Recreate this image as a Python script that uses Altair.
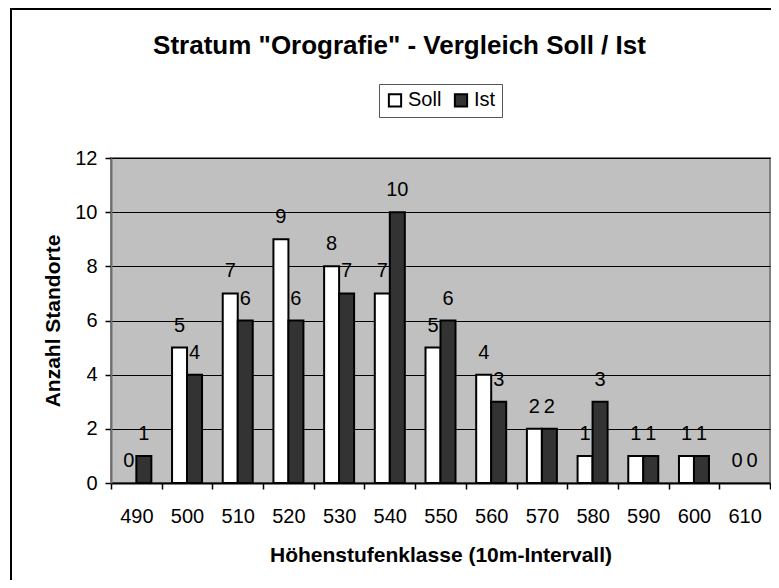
import altair as alt
import pandas as pd

# ---- data ----
klassen = ["490", "500", "510", "520", "530", "540", "550", "560", "570", "580", "590", "600", "610"]
soll = [0, 5, 7, 9, 8, 7, 5, 4, 2, 1, 1, 1, 0]
ist = [1, 4, 6, 6, 7, 10, 6, 3, 2, 3, 1, 1, 0]
serien = ["Soll", "Ist"]
farben = ["#ffffff", "#333333"]
y_ticks = [0, 2, 4, 6, 8, 10, 12]

rows = []
for k, s, i in zip(klassen, soll, ist):
    rows.append({"klasse": k, "serie": "Soll", "wert": s})
    rows.append({"klasse": k, "serie": "Ist", "wert": i})
df = pd.DataFrame(rows)

FONT = "Liberation Sans"
W, H = 659, 325

x_enc = alt.X(
    "klasse:O",
    sort=klassen,
    scale=alt.Scale(paddingInner=0, paddingOuter=0),
    axis=alt.Axis(
        title="Höhenstufenklasse (10m-Intervall)",
        labelAngle=0,
        tickBand="extent",
        grid=False,
        tickSize=6,
        labelPadding=17,
        titlePadding=18,
        domainColor="black",
        domainWidth=2,
        labelOverlap=False,
    ),
)
xoff_enc = alt.XOffset(
    "serie:N",
    sort=serien,
    scale=alt.Scale(domain=serien, paddingInner=0, paddingOuter=0.69),
)
y_enc = alt.Y(
    "wert:Q",
    scale=alt.Scale(domain=[0, 12], nice=False),
    axis=alt.Axis(
        title="Anzahl Standorte",
        values=y_ticks,
        grid=True,
        gridColor="black",
        gridWidth=1,
        tickSize=6,
        labelPadding=8,
        titlePadding=11,
        domainColor="#707070",
        domainWidth=2,
    ),
)
fill_enc = alt.Fill(
    "serie:N",
    sort=serien,
    title=None,
    scale=alt.Scale(domain=serien, range=farben),
    legend=alt.Legend(
        orient="none",
        legendX=268,
        legendY=-74,
        direction="horizontal",
        strokeColor="#555555",
        fillColor="white",
        padding=6,
        symbolType="square",
        symbolSize=150,
        symbolStrokeColor="black",
        symbolStrokeWidth=2,
        labelFontSize=20,
        labelFont=FONT,
        labelColor="black",
        columnPadding=8,
        labelOffset=3,
    ),
)

base = alt.Chart(df)

bars = (
    base.mark_bar(stroke="black", strokeWidth=2)
    .encode(x=x_enc, xOffset=xoff_enc, y=y_enc, fill=fill_enc)
    .transform_filter("datum.wert > 0")
)

labels = base.mark_text(
    fontSize=20, font=FONT, color="black", baseline="alphabetic", dy=-16
).encode(x=x_enc, xOffset=xoff_enc, y=y_enc, text="wert:Q")

one = pd.DataFrame({"f": [0]})
frame_left = (
    alt.Chart(one)
    .mark_rule(stroke="black", strokeWidth=2)
    .encode(x=alt.value(-100), y=alt.value(-150), y2=alt.value(460))
)
frame_top = (
    alt.Chart(one)
    .mark_rule(stroke="black", strokeWidth=2)
    .encode(x=alt.value(-101), x2=alt.value(720), y=alt.value(-149))
)

chart = (
    alt.layer(frame_left, frame_top, bars, labels)
    .properties(
        width=W,
        height=H,
        autosize=alt.AutoSizeParams(type="none"),
        padding={"left": 103, "top": 150, "right": 1, "bottom": 97},
        title=alt.TitleParams(
            'Stratum "Orografie" - Vergleich Soll / Ist',
            fontSize=26,
            font=FONT,
            fontWeight="bold",
            color="black",
            anchor="middle",
            frame="group",
            offset=0,
            baseline="alphabetic",
            dy=73,
            dx=-41,
        ),
    )
    .configure(background="white")
    .configure_view(fill="#C0C0C0", stroke="#808080", strokeWidth=2)
    .configure_axis(
        labelFont=FONT,
        labelFontSize=20,
        labelColor="black",
        titleFont=FONT,
        titleFontSize=21,
        titleFontWeight="bold",
        titleColor="black",
        tickColor="black",
        tickWidth=1.5,
    )
)

chart.save("out.html", embed_options={"renderer": "svg", "actions": False})
